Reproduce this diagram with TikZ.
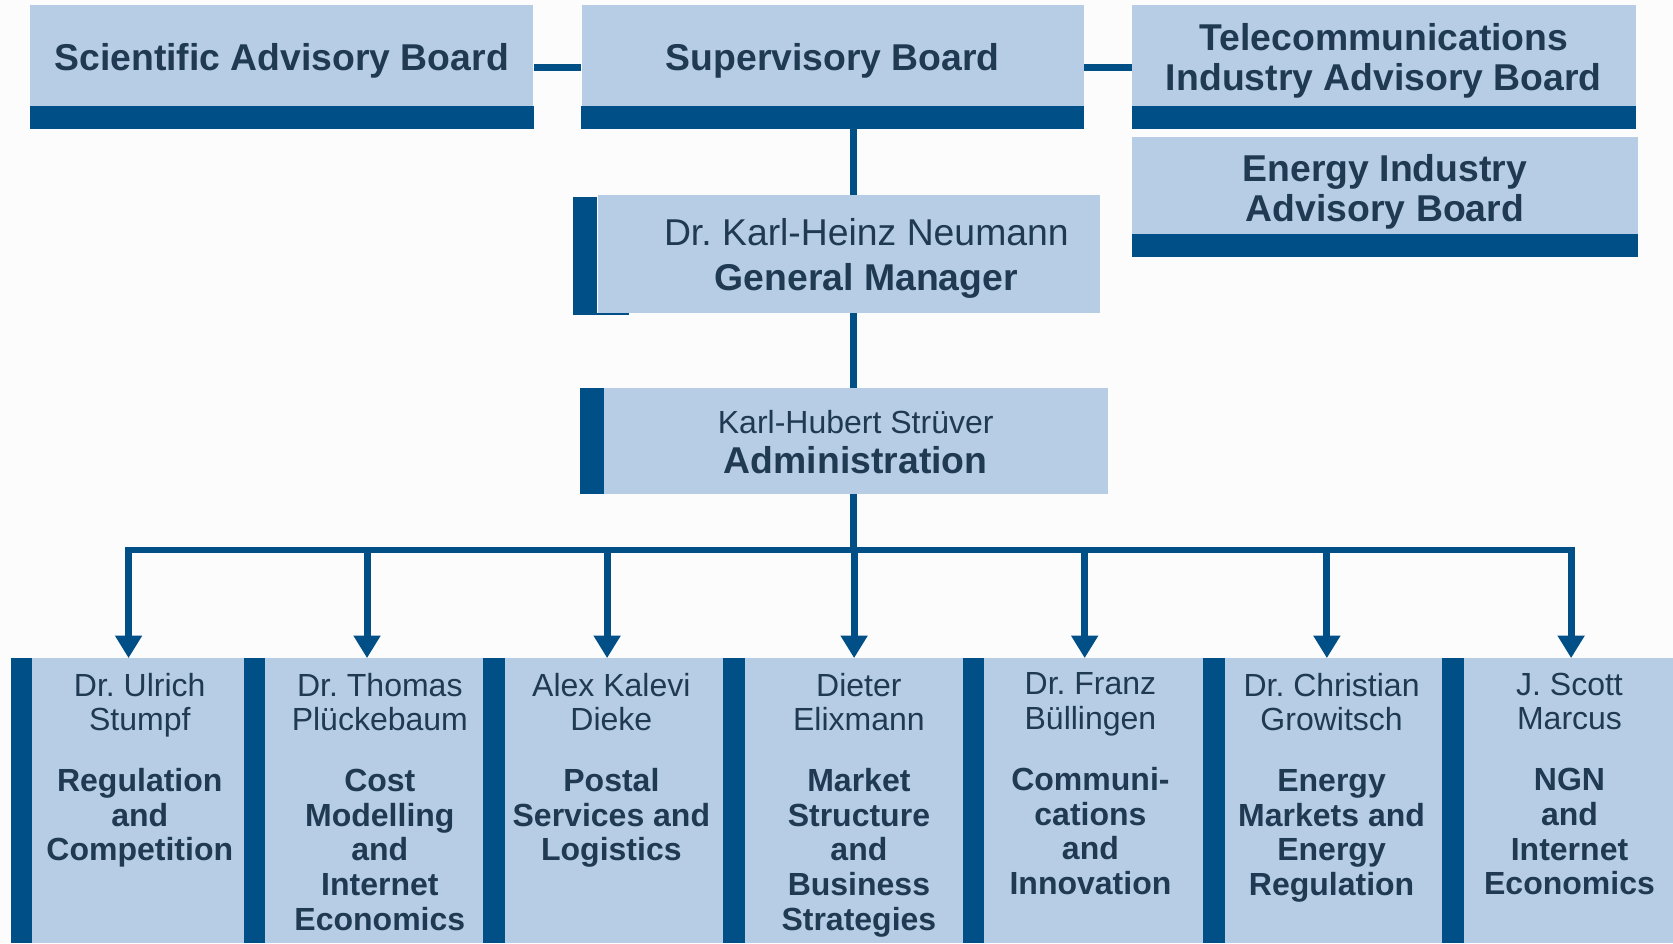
\documentclass[tikz,border=0pt]{standalone}
\usepackage{fontspec}
\setmainfont{Liberation Sans}
\usetikzlibrary{arrows.meta}
\definecolor{lightb}{RGB}{183,205,230}
\definecolor{darkb}{RGB}{0,79,135}
\definecolor{txt}{RGB}{31,58,82}
\definecolor{bgc}{RGB}{252,252,253}
\frenchspacing
\begin{document}
\begin{tikzpicture}[x=1pt,y=-1pt,
  box/.style={fill=lightb, draw=none, inner sep=0pt},
  toptext/.style={inner sep=0pt, text=txt, align=center, font=\fontsize{35}{37}\selectfont\bfseries},
  bar/.style={fill=darkb},
  txtn/.style={inner sep=0pt, text=txt, align=center},
  conn/.style={draw=darkb, line width=6.5pt},
  arr/.style={conn, -{Triangle[width=24pt,length=21pt]}},
  unit/.style={fill=lightb, draw=none, inner sep=0pt, minimum height=267pt},
  unittext/.style={txtn, anchor=north, font=\fontsize{30}{32.5}\selectfont}]
\useasboundingbox (0,0) rectangle (1568,884);
\fill[bgc] (0,0) rectangle (1568,884);

% top row
\node[box, minimum width=472pt, minimum height=94pt] (sci) at (264,52) {};
\node[box, minimum width=471pt, minimum height=94pt] (sup) at (780.5,52) {};
\node[box, minimum width=472pt, minimum height=94pt] (tel) at (1297,52) {};
\node[box, minimum width=474pt, minimum height=91pt] (ene) at (1298,173.5) {};
\foreach \n in {sci,sup,tel,ene}
  \fill[bar] (\n.south west) rectangle ([yshift=-22pt]\n.south east);
\node[toptext] (scit) at (264,57) {Scientific Advisory Board};
\node[toptext] (supt) at (780.5,57) {Supervisory Board};
\node[toptext] (telt) at (1297,57) {Telecommunications\\Industry Advisory Board};
\node[toptext] (enet) at (1298,180) {Energy Industry\\Advisory Board};

% general manager
\node[box, minimum width=471pt, minimum height=110pt] (gm) at (795.5,238) {};
\fill[bar] ([xshift=-23pt,yshift=-2pt]gm.north west) rectangle ([yshift=-2pt]gm.south west);
\fill[bar] ([yshift=0pt]gm.south west) rectangle ([xshift=30pt,yshift=-2pt]gm.south west);
\node[txtn, font=\fontsize{35}{42}\selectfont] (gmt) at (812,242) {Dr.\ Karl-Heinz Neumann\\\textbf{General Manager}};

% administration
\node[box, minimum width=472pt, minimum height=99pt] (adm) at (802,413.5) {};
\fill[bar] ([xshift=-22pt]adm.north west) rectangle (adm.south west);
\node[txtn, font=\fontsize{35}{38}\selectfont] (admt) at (802,414.5) {{\fontsize{30}{38}\selectfont Karl-Hubert Strüver}\\\textbf{Administration}};

% units
\node[unit, minimum width=198pt] (b1) at (129.25,750.5) {};
\node[unit, minimum width=205pt] (b2) at (351,750.5) {};
\node[unit, minimum width=205pt] (b3) at (575.75,750.5) {};
\node[unit, minimum width=205pt] (b4) at (800.5,750.5) {};
\node[unit, minimum width=206pt] (b5) at (1025.6,750.5) {};
\node[unit, minimum width=204pt] (b6) at (1250.1,750.5) {};
\node[unit, minimum width=196pt] (b7) at (1470,750.5) {};
\foreach \n in {b1,b2,b3,b4,b5,b6,b7}
  \fill[bar] ([xshift=-20pt]\n.north west) rectangle (\n.south west);

\node[unittext] (t1) at (131,630.5) {Dr.\ Ulrich\\Stumpf\\[24.5pt]\textbf{Regulation}\\\textbf{and}\\\textbf{Competition}};
\node[unittext] (t2) at (356,630.5) {Dr.\ Thomas\\Plückebaum\\[24.5pt]\textbf{Cost}\\\textbf{Modelling}\\\textbf{and}\\\textbf{Internet}\\\textbf{Economics}};
\node[unittext] (t3) at (573,630.5) {Alex Kalevi\\Dieke\\[24.5pt]\textbf{Postal}\\\textbf{Services and}\\\textbf{Logistics}};
\node[unittext] (t4) at (805,630.5) {Dieter\\Elixmann\\[24.5pt]\textbf{Market}\\\textbf{Structure}\\\textbf{and}\\\textbf{Business}\\\textbf{Strategies}};
\node[unittext] (t5) at (1022,630.5) {Dr.\ Franz\\Büllingen\\[24.5pt]\textbf{Communi-}\\\textbf{cations}\\\textbf{and}\\\textbf{Innovation}};
\node[unittext] (t6) at (1248,630.5) {Dr.\ Christian\\Growitsch\\[24.5pt]\textbf{Energy}\\\textbf{Markets and}\\\textbf{Energy}\\\textbf{Regulation}};
\node[unittext] (t7) at (1471,630.5) {J.\ Scott\\Marcus\\[24.5pt]\textbf{NGN}\\\textbf{and}\\\textbf{Internet}\\\textbf{Economics}};

% connectors
\coordinate (spine) at (800,0);
\draw[conn] ([yshift=-11pt]sci.east) -- ([yshift=-11pt]sup.west);
\draw[conn] ([yshift=-11pt]sup.east) -- ([yshift=-11pt]tel.west);
\draw[conn] (sup.south -| spine) -- (gm.north -| spine);
\draw[conn] (gm.south -| spine) -- (adm.north -| spine);
\coordinate (busL) at (120.5,515.5);
\coordinate (busR) at (1472.5,515.5);
\draw[conn] (adm.south -| spine) -- (busL -| spine);
\draw[conn, line join=miter, {Triangle[width=24pt,length=21pt]}-{Triangle[width=24pt,length=21pt]}]
  (busL |- b1.north) -- (busL) -- (busR) -- (busR |- b7.north);
\coordinate (a2) at (344,515.5);
\coordinate (a3) at (569,515.5);
\coordinate (a4) at (800.5,515.5);
\coordinate (a5) at (1016.6,515.5);
\coordinate (a6) at (1243.6,515.5);
\draw[arr] (a2) -- (a2 |- b2.north);
\draw[arr] (a3) -- (a3 |- b3.north);
\draw[arr] (a4) -- (a4 |- b4.north);
\draw[arr] (a5) -- (a5 |- b5.north);
\draw[arr] (a6) -- (a6 |- b6.north);
\end{tikzpicture}
\end{document}
